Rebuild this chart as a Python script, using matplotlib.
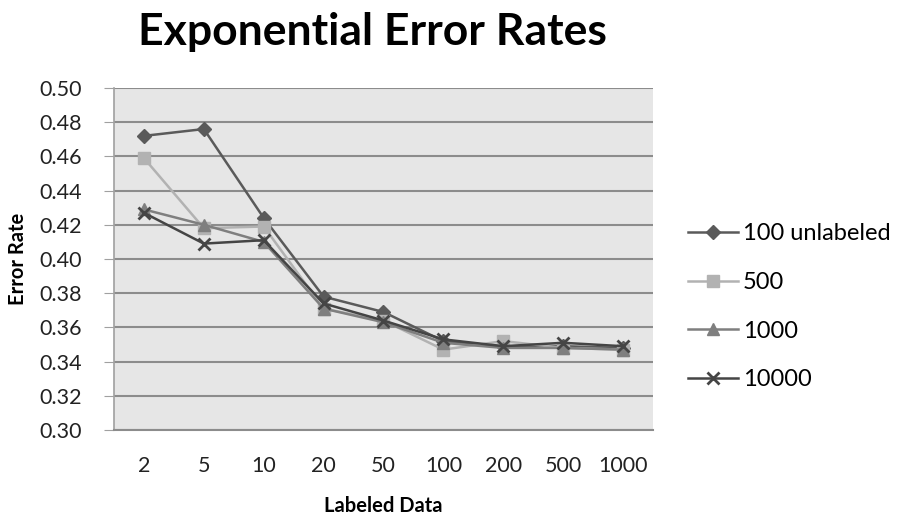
import matplotlib
matplotlib.use("Agg")
import matplotlib.pyplot as plt
import numpy as np

categories = ["2", "5", "10", "20", "50", "100", "200", "500", "1000"]
s100 = [0.472, 0.476, 0.424, 0.378, 0.369, 0.352, 0.349, 0.349, 0.348]
s500 = [0.459, 0.418, 0.419, 0.371, 0.364, 0.347, 0.352, 0.348, 0.347]
s1000 = [0.429, 0.420, 0.410, 0.371, 0.363, 0.351, 0.348, 0.348, 0.347]
s10000 = [0.427, 0.409, 0.411, 0.374, 0.364, 0.353, 0.349, 0.351, 0.349]
labels = ["100 unlabeled", "500", "1000", "10000"]
yticks = [0.30, 0.32, 0.34, 0.36, 0.38, 0.40, 0.42, 0.44, 0.46, 0.48, 0.50]

plt.rcParams['font.family'] = ['Lato', 'DejaVu Sans']

fig = plt.figure(figsize=(9.03, 5.16), dpi=100)
W, H = 903, 516
ax = fig.add_axes([114 / W, 1 - 430 / H, 539 / W, (430 - 88) / H])
ax.set_facecolor("#e6e6e6")

x = np.arange(len(categories))
styles = [
    (s100, "#5a5a5a", "D", 7, 1.8),
    (s500, "#b2b2b2", "s", 8, 1.8),
    (s1000, "#7f7f7f", "^", 8, 1.8),
    (s10000, "#454545", "x", 9, 1.8),
]
for (vals, col, mk, ms, lw), lab in zip(styles, labels):
    kw = dict(markeredgewidth=2) if mk == "x" else dict(markeredgecolor=col)
    ax.plot(x, vals, color=col, marker=mk, markersize=ms, linewidth=lw,
            label=lab, markerfacecolor=col, **kw)

ax.set_xlim(-0.5, len(categories) - 0.5)
ax.set_ylim(0.30, 0.50)
ax.set_yticks(yticks)
ax.set_yticklabels([f"{v:.2f}" for v in yticks], fontsize=15.5, color="#222222")
ax.set_xticks(x)
ax.set_xticklabels(categories, fontsize=15.5, color="#222222")
ax.yaxis.grid(True, color="#8c8c8c", linewidth=1.5)
ax.set_axisbelow(True)
for side in ["top", "right"]:
    ax.spines[side].set_visible(False)
ax.spines["left"].set_color("#a0a0a0")
ax.spines["left"].set_linewidth(1.2)
ax.spines["bottom"].set_color("#8c8c8c")
ax.spines["bottom"].set_linewidth(1.5)
ax.tick_params(axis="y", length=7, color="#a0a0a0", pad=16)
ax.tick_params(axis="x", length=0, pad=19)

ax.set_ylabel("Error Rate", fontsize=14.5, fontweight="bold", labelpad=8)
ax.set_xlabel("Labeled Data", fontsize=14.5, fontweight="bold", labelpad=14)

fig.text(372 / W, 1 - 32 / H, "Exponential Error Rates", fontsize=32,
         fontweight="bold", ha="center", va="center")

leg = ax.legend(loc="center left", bbox_to_anchor=(1.03, 0.36), frameon=False,
                fontsize=17, handlelength=2.1, labelspacing=1.17, handletextpad=0.22,
                borderpad=0.3)

fig.savefig("out.png", dpi=100)
